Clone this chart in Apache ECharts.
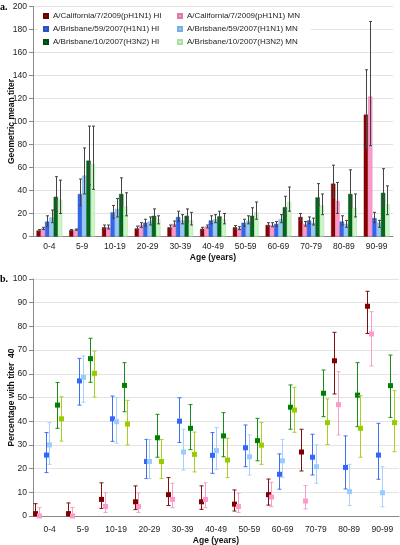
<!DOCTYPE html>
<html>
<head>
<meta charset="utf-8">
<script src="https://cdn.jsdelivr.net/npm/echarts@6/dist/echarts.min.js"></script>
<style>html,body{margin:0;padding:0;background:#fff}#c{width:400px;height:545px}</style>
</head>
<body>
<div id="c"></div>
<script>
const categories = ['0-4','5-9','10-19','20-29','30-39','40-49','50-59','60-69','70-79','80-89','90-99'];
const seriesNames = ['A/California/7/2009(pH1N1) HI','A/California/7/2009(pH1N1) MN','A/Brisbane/59/2007(H1N1) HI','A/Brisbane/59/2007(H1N1) MN','A/Brisbane/10/2007(H3N2) HI','A/Brisbane/10/2007(H3N2) MN'];
const yTicksTop = [0,20,40,60,80,100,120,140,160,180,200];
const yTicksBottom = [0,10,20,30,40,50,60,70,80,90,100];

// Panel a: geometric mean titer (value, lower, upper)
const gmtCaHI = [5.2, 5.5, 8, 7, 8, 6.7, 8, 10, 17, 46, 106];
const gmtCaHILow = [4.5, 5, 6.5, 6, 6.5, 5.5, 6.5, 8.5, 14, 34, 77];
const gmtCaHIHigh = [6, 6, 10, 9, 10, 8, 9.5, 12, 20, 62, 145];
const gmtCaMN = [7, 6, 8, 10, 11, 8.7, 7, 10, 11, 31, 121.7];
const gmtCaMNLow = [6, 5.5, 6.5, 8, 9, 7.5, 6, 8.5, 9, 20, 79];
const gmtCaMNHigh = [8, 6.5, 10, 12, 13.5, 10, 8.5, 12, 13, 47, 187];
const gmtB59HI = [13, 37, 21, 12, 17, 14, 12, 11, 14, 13, 16];
const gmtB59HILow = [9, 27, 16, 9, 13, 11, 9, 9, 11, 10, 12];
const gmtB59HIHigh = [18, 50, 27, 15, 22, 18, 15, 13, 17, 18, 21];
const gmtB59MN = [16.5, 53, 24, 13, 14, 15, 13.5, 15, 12, 11, 12];
const gmtB59MNLow = [12, 37, 17, 10, 11, 12, 11, 12, 10, 8, 8];
const gmtB59MNHigh = [23, 77, 33, 17, 19, 19, 18, 19, 16, 14, 14];
const gmtB10HI = [34.5, 66, 37, 18, 18, 17.5, 18, 25.5, 34, 37, 38];
const gmtB10HILow = [22, 45, 26, 13, 13, 14, 13, 18, 27, 26, 26];
const gmtB10HIHigh = [52, 96, 51, 24, 24, 22, 25, 35, 46, 58, 59];
const gmtB10MN = [32, 63, 26, 15, 14, 15, 21, 30, 27, 25, 28];
const gmtB10MNLow = [20, 41, 18, 11, 10, 11, 15, 22, 19, 17, 19];
const gmtB10MNHigh = [49, 96, 38, 18, 21, 20, 30, 43, 37, 37, 44];

// Panel b: percentage with titer >= 40 (value, lower, upper)
const pctCaHI = [1, 1, 7, 6, 9, 6, 5, 9, 27, 65.5, 88.5];
const pctCaHILow = [0, 0, 3.2, 2.7, 4.4, 2.8, 2.1, 4.6, 19, 51.5, 77];
const pctCaHIHigh = [5.2, 5.5, 14, 12.7, 16.2, 12.7, 11, 15.6, 36.6, 77.5, 94.8];
const pctCaMN = [0, 0, 4, 4, 7, 7, 4, 8, 6.3, 47, 76.8];
const pctCaMNLow = [0, 0, 1.5, 1.5, 3.5, 3.5, 1.5, 3.9, 3, 34.2, 63.3];
const pctCaMNHigh = [3.5, 3.6, 9.8, 9.7, 13.8, 14, 9.6, 14.2, 12.8, 60.9, 86.2];
const pctB59HI = [25.7, 57, 41, 23, 40, 25.6, 28.8, 17.6, 24.8, 20.5, 25.7];
const pctB59HILow = [18.3, 46.8, 31.5, 15.8, 31, 18, 20.8, 11.3, 17.3, 11.4, 15.5];
const pctB59HIHigh = [35.2, 66.5, 50.6, 32.3, 49.9, 35.2, 38.4, 26.2, 34.5, 33.8, 39.1];
const pctB59MN = [30, 58.5, 39.8, 23, 27, 27.6, 25, 23.3, 20.8, 10.3, 9.8];
const pctB59MNLow = [21.8, 48, 30.7, 15.8, 19.4, 19.7, 17.3, 16.3, 13.8, 4.4, 3.9];
const pctB59MNHigh = [39.4, 67.5, 49.9, 32.3, 36.6, 37.3, 34.2, 32.3, 30, 21.8, 20.8];
const pctB10HI = [46.8, 66.4, 55.1, 33, 37, 33.8, 31.8, 45.9, 51.8, 51, 55];
const pctB10HILow = [37, 56.4, 44, 24.8, 28, 25, 23.3, 36.6, 41.9, 37.7, 41.6];
const pctB10HIHigh = [56.3, 75, 64.7, 42.9, 47, 43.6, 41.2, 55.3, 61.6, 64.7, 67.9];
const pctB10MN = [41, 60.2, 38.8, 23, 26, 23.6, 29.9, 44.7, 39.4, 37, 39.4];
const pctB10MNLow = [31.6, 50.2, 30, 15.8, 18.6, 16.2, 21.8, 35.3, 30.2, 24.8, 27.1];
const pctB10MNHigh = [50.3, 69.6, 48.8, 32.3, 35.4, 32.8, 39.4, 54.3, 49.4, 50.8, 52.9];

const barColors = ['#8b0000', '#ff99cc', '#3366ee', '#99c8f5', '#006a1a', '#ccf5c8'];
const barBorders = ['#6a0000', '#e07aaa', '#2a52c0', '#7aaee0', '#004a10', '#a8e0a0'];
const dotColors = ['#800000', '#ff99cc', '#3366ff', '#99ccff', '#008000', '#99cc00'];
const errColors = ['#7a1010', '#f5a0c8', '#4070ee', '#a8d0ff', '#1a8a1a', '#a8d020'];

const gmt = [gmtCaHI, gmtCaMN, gmtB59HI, gmtB59MN, gmtB10HI, gmtB10MN];
const gmtLow = [gmtCaHILow, gmtCaMNLow, gmtB59HILow, gmtB59MNLow, gmtB10HILow, gmtB10MNLow];
const gmtHigh = [gmtCaHIHigh, gmtCaMNHigh, gmtB59HIHigh, gmtB59MNHigh, gmtB10HIHigh, gmtB10MNHigh];
const pct = [pctCaHI, pctCaMN, pctB59HI, pctB59MN, pctB10HI, pctB10MN];
const pctLow = [pctCaHILow, pctCaMNLow, pctB59HILow, pctB59MNLow, pctB10HILow, pctB10MNLow];
const pctHigh = [pctCaHIHigh, pctCaMNHigh, pctB59HIHigh, pctB59MNHigh, pctB10HIHigh, pctB10MNHigh];

const BAR_FRAC = 0.131;
const dotOffsets = [-0.449, -0.332, -0.117, -0.006, 0.225, 0.338];

function errRender(offsetFrac, color, capHalf, withDot) {
  return function (params, api) {
    const idx = api.value(0);
    const pLow = api.coord([idx, api.value(1)]);
    const pHigh = api.coord([idx, api.value(2)]);
    const pVal = api.coord([idx, api.value(3)]);
    const band = api.size([1, 0])[0];
    const x = Math.round(pLow[0] + offsetFrac * band) + 0.5;
    const st = { stroke: color, lineWidth: 1 };
    const children = [
      { type: 'line', shape: { x1: x, y1: pLow[1], x2: x, y2: pHigh[1] }, style: st },
      { type: 'line', shape: { x1: x - capHalf, y1: pHigh[1], x2: x + capHalf, y2: pHigh[1] }, style: st },
      { type: 'line', shape: { x1: x - capHalf, y1: pLow[1], x2: x + capHalf, y2: pLow[1] }, style: st }
    ];
    if (withDot) {
      children.push({ type: 'rect', shape: { x: x - 2.5, y: pVal[1] - 2.5, width: 5, height: 5 }, style: { fill: withDot } });
    }
    return { type: 'group', children: children };
  };
}

const series = [];
for (let i = 0; i < 6; i++) {
  series.push({
    name: seriesNames[i], type: 'bar', xAxisIndex: 0, yAxisIndex: 0,
    data: gmt[i], barWidth: (BAR_FRAC * 100) + '%', barGap: '0%',
    itemStyle: { color: barColors[i], borderColor: barBorders[i], borderWidth: 0.5 },
    z: 2, silent: true
  });
}
for (let i = 0; i < 6; i++) {
  series.push({
    type: 'custom', xAxisIndex: 0, yAxisIndex: 0, z: 3, silent: true,
    renderItem: errRender((i - 2.5) * BAR_FRAC, '#444', 1.5, null),
    data: categories.map((c, k) => [k, gmtLow[i][k], gmtHigh[i][k], gmt[i][k]])
  });
}
for (let i = 0; i < 6; i++) {
  series.push({
    type: 'custom', xAxisIndex: 1, yAxisIndex: 1, z: 3 + i, silent: true,
    renderItem: errRender(dotOffsets[i], errColors[i], 2, dotColors[i]),
    data: categories.map((c, k) => [k, pctLow[i][k], pctHigh[i][k], pct[i][k]])
  });
}

const FONT = 'Liberation Sans, Arial, sans-serif';
const axisLbl = { color: '#222', fontSize: 8.5, fontFamily: FONT };
const nameSt = { color: '#111', fontSize: 8.5, fontWeight: 'bold', fontFamily: FONT };
const axLine = { lineStyle: { color: '#888', width: 1 } };

const chart = echarts.init(document.getElementById('c'), null, { renderer: 'canvas' });
chart.setOption({
  animation: false,
  backgroundColor: '#fff',
  textStyle: { fontFamily: FONT },
  grid: [
    { left: 33, right: 7, top: 6.5, height: 230, containLabel: false, outerBoundsMode: 'none' },
    { left: 33, right: 1, top: 279, height: 237, containLabel: false, outerBoundsMode: 'none' }
  ],
  legend: {
    data: seriesNames, left: 38, top: 9, width: 300, orient: 'horizontal',
    padding: [3, 5], itemWidth: 4, itemHeight: 4, itemGap: 5, icon: 'rect',
    backgroundColor: '#fff',
    textStyle: { color: '#222', fontSize: 8, fontFamily: FONT, width: 119, lineHeight: 8, overflow: 'none' },
    selectedMode: false
  },
  xAxis: [
    { type: 'category', gridIndex: 0, data: categories, axisLine: axLine,
      axisTick: { length: 3, lineStyle: { color: '#888' } }, axisLabel: Object.assign({ margin: 6, interval: 0 }, axisLbl),
      name: 'Age (years)', nameLocation: 'middle', nameGap: 17, nameMoveOverlap: false, nameTextStyle: nameSt },
    { type: 'category', gridIndex: 1, data: categories, axisLine: axLine,
      axisTick: { length: 3, lineStyle: { color: '#888' } }, axisLabel: Object.assign({ margin: 9, interval: 0 }, axisLbl),
      name: 'Age (years)', nameLocation: 'middle', nameGap: 20, nameMoveOverlap: false, nameTextStyle: nameSt }
  ],
  yAxis: [
    { type: 'value', gridIndex: 0, min: yTicksTop[0], max: yTicksTop[yTicksTop.length - 1], interval: 20,
      axisLine: Object.assign({ show: true }, axLine), axisTick: { show: true, length: 4, lineStyle: { color: '#888' } },
      splitLine: { lineStyle: { color: '#e3e3e3' } }, axisLabel: Object.assign({ margin: 6 }, axisLbl),
      name: 'Geometric mean titer', nameLocation: 'middle', nameGap: 17, nameMoveOverlap: false, nameTextStyle: nameSt },
    { type: 'value', gridIndex: 1, min: yTicksBottom[0], max: yTicksBottom[yTicksBottom.length - 1], interval: 10,
      axisLine: Object.assign({ show: true }, axLine), axisTick: { show: true, length: 4, lineStyle: { color: '#888' } },
      splitLine: { lineStyle: { color: '#e3e3e3' } }, axisLabel: Object.assign({ margin: 6 }, axisLbl),
      name: 'Percentage with titer  40', nameLocation: 'middle', nameGap: 17, nameMoveOverlap: false, nameTextStyle: nameSt }
  ],
  graphic: [
    { type: 'text', left: 0, top: 2, style: { text: 'a.', font: 'bold 10px "Liberation Serif", serif', fill: '#000' } },
    { type: 'text', left: 0, top: 274, style: { text: 'b.', font: 'bold 10px "Liberation Serif", serif', fill: '#000' } }
  ],
  series: series
});
</script>
</body>
</html>
